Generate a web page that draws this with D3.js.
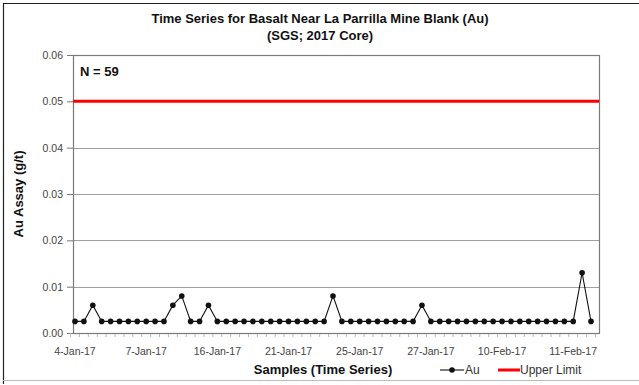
<!DOCTYPE html>
<html>
<head>
<meta charset="utf-8">
<script src="https://cdn.jsdelivr.net/npm/d3@7"></script>
<style>
html,body{margin:0;padding:0;background:#fff;}
text{font-family:"Liberation Sans",Arial,sans-serif;}
</style>
</head>
<body>
<svg id="chart" width="639" height="385"></svg>
<script>
// ---- data ----
const auValues = [
  0.0025, 0.0025, 0.006, 0.0025, 0.0025, 0.0025, 0.0025, 0.0025, 0.0025, 0.0025,
  0.0025, 0.006, 0.008, 0.0025, 0.0025, 0.006, 0.0025, 0.0025, 0.0025, 0.0025,
  0.0025, 0.0025, 0.0025, 0.0025, 0.0025, 0.0025, 0.0025, 0.0025, 0.0025, 0.008,
  0.0025, 0.0025, 0.0025, 0.0025, 0.0025, 0.0025, 0.0025, 0.0025, 0.0025, 0.006,
  0.0025, 0.0025, 0.0025, 0.0025, 0.0025, 0.0025, 0.0025, 0.0025, 0.0025, 0.0025,
  0.0025, 0.0025, 0.0025, 0.0025, 0.0025, 0.0025, 0.0025, 0.013, 0.0025
];
const tickLabels = ["4-Jan-17","7-Jan-17","16-Jan-17","21-Jan-17","25-Jan-17","27-Jan-17","10-Feb-17","11-Feb-17"];
const tickSampleIndex = [0, 8, 16, 24, 32, 40, 48, 56];
const yTicks = [0, 0.01, 0.02, 0.03, 0.04, 0.05, 0.06];
const upperLimit = 0.05;
const sampleCount = 59;

// ---- layout ----
const svg = d3.select("#chart");
const plot = {l: 73, r: 599, t: 55, b: 333};
const categories = d3.range(auValues.length);

const x = d3.scalePoint().domain(categories).range([plot.l + 2, plot.r - 8]);
const y = d3.scaleLinear().domain([0, 0.06]).range([plot.b, plot.t]);

// outer frame
svg.append("path").attr("d", `M3.5,384 V3.5 H639`).attr("fill","none").attr("stroke","#222").attr("stroke-width",1.2);
svg.append("line").attr("x1",3).attr("x2",639).attr("y1",380.5).attr("y2",380.5).attr("stroke","#bbb");

// title
svg.append("text").attr("x",320).attr("y",23).attr("text-anchor","middle")
  .attr("font-size",13).attr("font-weight","bold").attr("fill","#111")
  .text("Time Series for Basalt Near La Parrilla Mine Blank (Au)");
svg.append("text").attr("x",320).attr("y",40).attr("text-anchor","middle")
  .attr("font-size",13).attr("font-weight","bold").attr("fill","#111")
  .text("(SGS; 2017 Core)");

// gridlines
svg.append("g").selectAll("line").data(yTicks.filter(d => d > 0 && d < 0.06)).join("line")
  .attr("x1", plot.l).attr("x2", plot.r)
  .attr("y1", d => Math.round(y(d)) + 0.5).attr("y2", d => Math.round(y(d)) + 0.5)
  .attr("stroke", "#a0a0a0").attr("stroke-width", 1);

// y axis
const yAxis = d3.axisLeft(y).tickValues(yTicks).tickFormat(d3.format(".2f")).tickSize(6).tickPadding(4);
const gy = svg.append("g").attr("transform", `translate(${plot.l},0)`).call(yAxis);
gy.select(".domain").remove();
gy.selectAll(".tick line").attr("stroke", "#777");
gy.selectAll(".tick text").attr("font-size", 10.5).attr("fill", "#444").attr("font-family","Liberation Sans, Arial, sans-serif");

// x axis labels
const gx = svg.append("g").attr("transform", `translate(0,${plot.b})`);
const step = x.step();
gx.selectAll("line.minor").data(d3.range(auValues.length + 1)).join("line")
  .attr("class","minor")
  .attr("x1", i => x(0) - step/2 + i*step).attr("x2", i => x(0) - step/2 + i*step)
  .attr("y1", 0).attr("y2", 4).attr("stroke", "#bbb");
gx.selectAll("text").data(tickSampleIndex).join("text")
  .attr("x", (d) => x(d)).attr("y", 22).attr("text-anchor", "middle")
  .attr("font-size", 10.5).attr("fill", "#444")
  .text((d, i) => tickLabels[i]);

// plot frame
svg.append("rect").attr("x", plot.l + 0.5).attr("y", plot.t + 0.5)
  .attr("width", plot.r - plot.l).attr("height", plot.b - plot.t)
  .attr("fill", "none").attr("stroke", "#7a7a7a").attr("stroke-width", 1.2);

// upper limit
svg.append("line").attr("x1", plot.l).attr("x2", plot.r)
  .attr("y1", y(upperLimit)).attr("y2", y(upperLimit))
  .attr("stroke", "#ff0000").attr("stroke-width", 3);

// Au series
const line = d3.line().x((d, i) => x(i)).y(d => y(d));
svg.append("path").datum(auValues).attr("d", line)
  .attr("fill", "none").attr("stroke", "#111").attr("stroke-width", 1.1);
svg.append("g").selectAll("circle").data(auValues).join("circle")
  .attr("cx", (d, i) => x(i)).attr("cy", d => y(d)).attr("r", 2.8).attr("fill", "#111");

// N label
svg.append("text").attr("x", 80).attr("y", 76).attr("font-size", 13).attr("font-weight", "bold")
  .attr("fill", "#111").text(`N = ${sampleCount}`);

// axis titles
svg.append("text").attr("transform", "translate(23,194) rotate(-90)").attr("text-anchor", "middle")
  .attr("font-size", 13).attr("font-weight", "bold").attr("fill", "#111").text("Au Assay (g/t)");
svg.append("text").attr("x", 323).attr("y", 374).attr("text-anchor", "middle")
  .attr("font-size", 13).attr("font-weight", "bold").attr("fill", "#111").text("Samples (Time Series)");

// legend
const lg = svg.append("g").attr("transform", "translate(440,374)");
lg.append("line").attr("x1", 0).attr("x2", 24).attr("y1", -4).attr("y2", -4).attr("stroke", "#111").attr("stroke-width", 1.1);
lg.append("circle").attr("cx", 12).attr("cy", -4).attr("r", 2.8).attr("fill", "#111");
lg.append("text").attr("x", 25).attr("y", 0).attr("font-size", 12).attr("fill", "#333").text("Au");
lg.append("line").attr("x1", 58).attr("x2", 80).attr("y1", -4).attr("y2", -4).attr("stroke", "#ff0000").attr("stroke-width", 3);
lg.append("text").attr("x", 80).attr("y", 0).attr("font-size", 12).attr("fill", "#333").text("Upper Limit");
</script>
</body>
</html>
